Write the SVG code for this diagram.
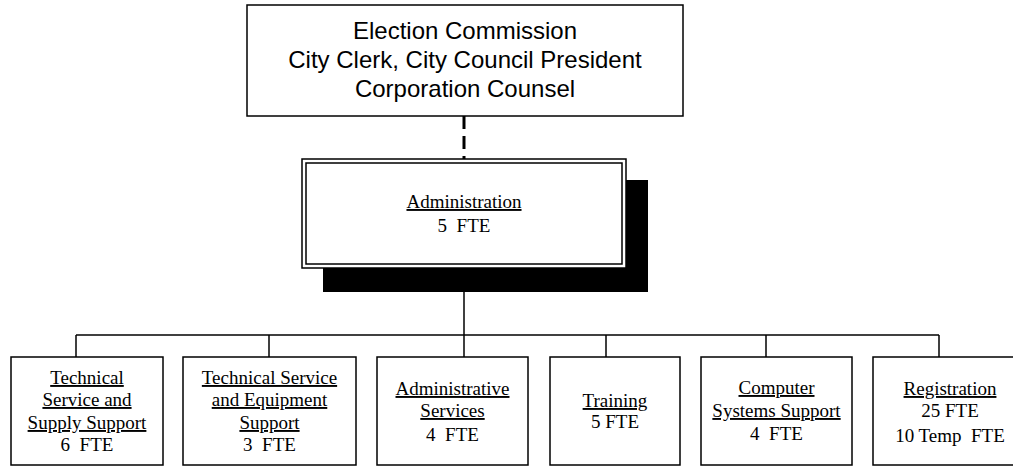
<svg xmlns="http://www.w3.org/2000/svg" width="1013" height="466" viewBox="0 0 1013 466">
<style>
  .box { fill: #fff; stroke: #000; stroke-width: 1.5; }
  .conn { stroke: #000; stroke-width: 1.5; fill: none; }
  .dash { stroke: #000; stroke-width: 3; stroke-dasharray: 13 7; fill: none; }
  .sans { font-family: "Liberation Sans", Arial, sans-serif; font-size: 24px; fill: #000; text-anchor: middle; }
  .serif { font-family: "Liberation Serif", "Times New Roman", serif; font-size: 19px; fill: #000; text-anchor: middle; white-space: pre; }
  .u { text-decoration: underline; }
</style>
<rect width="1013" height="466" fill="#fff"/>

<g id="connectors">
  <line class="dash" x1="464" y1="116" x2="464" y2="159"/>
  <line class="conn" x1="464" y1="268" x2="464" y2="335"/>
  <line class="conn" x1="76" y1="335" x2="939" y2="335"/>
  <line class="conn" x1="76" y1="335" x2="76" y2="357"/>
  <line class="conn" x1="269" y1="335" x2="269" y2="357"/>
  <line class="conn" x1="464" y1="335" x2="464" y2="357"/>
  <line class="conn" x1="606" y1="335" x2="606" y2="357"/>
  <line class="conn" x1="766" y1="335" x2="766" y2="357"/>
  <line class="conn" x1="939" y1="335" x2="939" y2="357"/>
</g>

<g id="election-commission">
  <rect class="box" x="247" y="5" width="436" height="111"/>
  <text class="sans" x="465" y="39">Election Commission</text>
  <text class="sans" x="465" y="68">City Clerk, City Council President</text>
  <text class="sans" x="465" y="97">Corporation Counsel</text>
</g>

<g id="administration">
  <rect x="323" y="180" width="325" height="112" fill="#000"/>
  <rect class="box" x="302" y="159" width="324" height="109"/>
  <rect class="box" x="306" y="163" width="316" height="101"/>
  <text class="serif u" x="464" y="208">Administration</text>
  <text class="serif" x="464" y="232">5  FTE</text>
</g>

<g id="tech-supply">
  <rect class="box" x="11" y="357" width="152" height="108"/>
  <text class="serif u" x="87" y="384">Technical</text>
  <text class="serif u" x="87" y="406">Service and</text>
  <text class="serif u" x="87" y="429">Supply Support</text>
  <text class="serif" x="87" y="451">6  FTE</text>
</g>

<g id="tech-equipment">
  <rect class="box" x="183" y="357" width="173" height="108"/>
  <text class="serif u" x="269.5" y="384">Technical Service</text>
  <text class="serif u" x="269.5" y="406">and Equipment</text>
  <text class="serif u" x="269.5" y="429">Support</text>
  <text class="serif" x="269.5" y="451">3  FTE</text>
</g>

<g id="admin-services">
  <rect class="box" x="377" y="357" width="151" height="108"/>
  <text class="serif u" x="452.5" y="395">Administrative</text>
  <text class="serif u" x="452.5" y="417">Services</text>
  <text class="serif" x="452.5" y="441">4  FTE</text>
</g>

<g id="training">
  <rect class="box" x="550" y="357" width="130" height="108"/>
  <text class="serif u" x="615" y="407">Training</text>
  <text class="serif" x="615" y="428">5 FTE</text>
</g>

<g id="computer-systems">
  <rect class="box" x="701" y="357" width="151" height="108"/>
  <text class="serif u" x="776.5" y="394">Computer</text>
  <text class="serif u" x="776.5" y="417">Systems Support</text>
  <text class="serif" x="776.5" y="440">4  FTE</text>
</g>

<g id="registration">
  <rect class="box" x="873" y="357" width="154" height="108"/>
  <text class="serif u" x="950" y="395">Registration</text>
  <text class="serif" x="950" y="417">25 FTE</text>
  <text class="serif" x="950" y="442">10 Temp  FTE</text>
</g>
</svg>
